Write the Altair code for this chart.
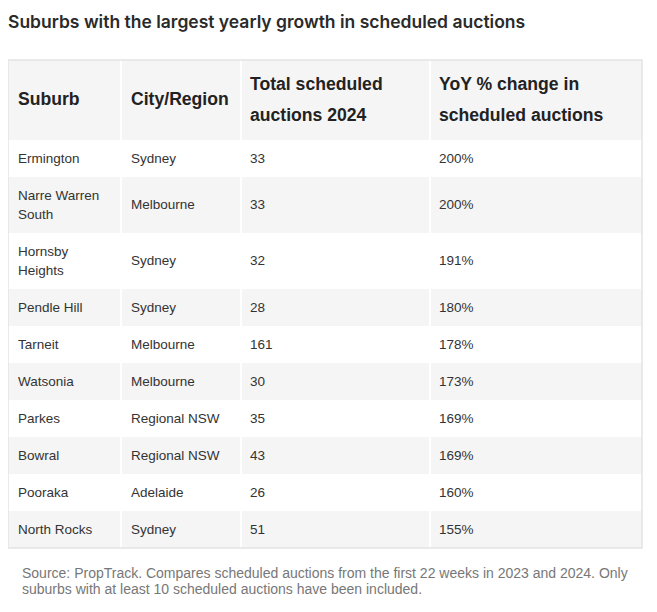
import altair as alt
import pandas as pd
import textwrap

# ---- data ----
title = "Suburbs with the largest yearly growth in scheduled auctions"
headers = ["Suburb", "City/Region", "Total scheduled auctions 2024", "YoY % change in scheduled auctions"]
suburbs = ["Ermington", "Narre Warren South", "Hornsby Heights", "Pendle Hill", "Tarneit",
           "Watsonia", "Parkes", "Bowral", "Pooraka", "North Rocks"]
cities = ["Sydney", "Melbourne", "Sydney", "Sydney", "Melbourne",
          "Melbourne", "Regional NSW", "Regional NSW", "Adelaide", "Sydney"]
totals = [33, 33, 32, 28, 161, 30, 35, 43, 26, 51]
yoy_pct = [200, 200, 191, 180, 178, 173, 169, 169, 160, 155]
source = ["Source: PropTrack. Compares scheduled auctions from the first 22 weeks in 2023 and 2024. Only",
          "suburbs with at least 10 scheduled auctions have been included."]

# ---- layout ----
W, H = 641, 596
cols = [0, 113, 233, 422, 634]
pad = 10
wrap_w = [12, 14, 16, 20]
header_top, header_h = 52, 80
row_h1, line_h = 37, 19
head_lh = 31

rects, texts, heads = [], [], []
rects.append(dict(y=header_top, y2=header_top + header_h, fill="#f5f5f5"))
for ci, h in enumerate(headers):
    lines = textwrap.wrap(h, width=wrap_w[ci] if ci > 1 else 40)
    heads.append(dict(x=cols[ci] + pad - (1 if ci > 1 else 0),
                      y=header_top + header_h / 2 - (len(lines) - 1) * head_lh / 2,
                      label="\n".join(lines)))

top = header_top + header_h
for i in range(len(suburbs)):
    cells = [suburbs[i], cities[i], str(totals[i]), f"{yoy_pct[i]}%"]
    wrapped = [textwrap.wrap(c, width=wrap_w[k]) for k, c in enumerate(cells)]
    n = max(len(w) for w in wrapped)
    h = row_h1 + (n - 1) * line_h
    rects.append(dict(y=top, y2=top + h, fill="#ffffff" if i % 2 == 0 else "#f5f5f5"))
    for k, w in enumerate(wrapped):
        texts.append(dict(x=cols[k] + pad - (1 if k > 1 else 0),
                          y=top + h / 2 - (len(w) - 1) * line_h / 2,
                          label="\n".join(w)))
    top += h
table_bottom = top

rect_df = pd.DataFrame(rects)
rect_df["x"] = cols[0]
rect_df["x2"] = cols[-1]
sep_df = pd.DataFrame(dict(x=cols[1:-1], y=[header_top] * 3, y2=[table_bottom] * 3))
outline_df = pd.DataFrame([dict(x=cols[0], x2=cols[-1], y=header_top, y2=table_bottom)])
text_df = pd.DataFrame(texts)
head_df = pd.DataFrame(heads)
title_df = pd.DataFrame([dict(x=0, y=15, label=title)])
src_df = pd.DataFrame(dict(x=[14, 14], y=[566, 582], label=source))

xs = alt.Scale(domain=[0, W], nice=False, zero=False)
ys = alt.Scale(domain=[0, H], reverse=True, nice=False, zero=False)
X = alt.X("x:Q", scale=xs, axis=None)
Y = alt.Y("y:Q", scale=ys, axis=None)

bg = alt.Chart(rect_df).mark_rect().encode(
    x=X, x2="x2:Q", y=Y, y2="y2:Q", fill=alt.Fill("fill:N", scale=None))
seps = alt.Chart(sep_df).mark_rule(color="#ffffff", strokeWidth=2).encode(x=X, y=Y, y2="y2:Q")
outline = alt.Chart(outline_df).mark_rect(fill=None, stroke="#e4e4e4", strokeWidth=1.5).encode(
    x=X, x2="x2:Q", y=Y, y2="y2:Q")
body = alt.Chart(text_df).mark_text(
    align="left", baseline="middle", font="Liberation Sans", fontSize=13.5, color="#333333",
    lineBreak="\n", lineHeight=line_h).encode(x=X, y=Y, text="label:N")
head = alt.Chart(head_df).mark_text(
    align="left", baseline="middle", font="Liberation Sans", fontSize=17.6, fontWeight="bold",
    color="#222222", lineBreak="\n", lineHeight=head_lh).encode(x=X, y=Y, text="label:N")
ttl = alt.Chart(title_df).mark_text(
    align="left", baseline="middle", font="Inter", fontSize=17.5, fontWeight=600,
    color="#2a2a2a").encode(x=X, y=Y, text="label:N")
src = alt.Chart(src_df).mark_text(
    align="left", baseline="middle", font="Liberation Sans", fontSize=14, color="#777777"
).encode(x=X, y=Y, text="label:N")

chart = alt.layer(bg, seps, outline, body, head, ttl, src).properties(
    width=W, height=H, padding=0, autosize=alt.AutoSizeParams(type="none")
).configure_view(stroke=None)

chart.save("out.html", embed_options={"renderer": "svg", "actions": False})
